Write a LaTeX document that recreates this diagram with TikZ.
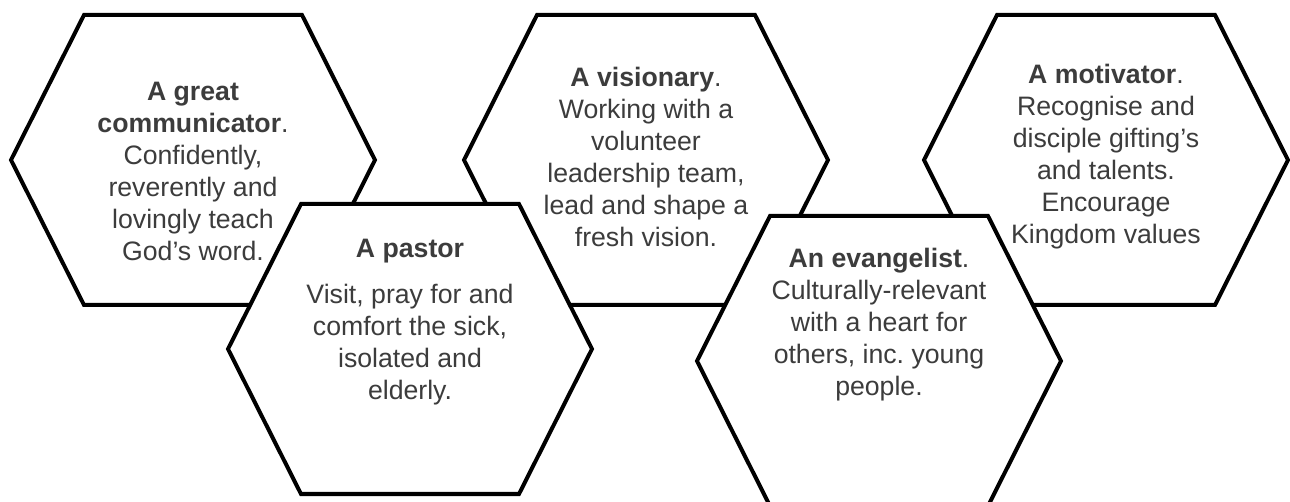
\documentclass[tikz,border=0pt]{standalone}
\usepackage{fontspec}
\setmainfont{Liberation Sans}
\usepackage{tikz}
\definecolor{txtgray}{RGB}{60,60,60}
\newcommand\hexw{182}
\newcommand\hexh{145}
\newcommand\hexs{109}
\newcommand\nhex[5]{

  \filldraw[fill=white, draw=black, line width=3pt, line join=miter, shift={(#1,#2)}] (-\hexs,-\hexh) -- (\hexs,-\hexh) -- (\hexw,0) -- (\hexs,\hexh) -- (-\hexs,\hexh) -- (-\hexw,0) --cycle;
      \node[align=center, text=txtgray, font=\fontsize{20}{24}\selectfont] (#4) at (#1,#3) {#5};
}

\begin{document}
\begin{tikzpicture}[x=0.75pt,y=-0.75pt]
\useasboundingbox (0,0) rectangle (1290,502);
\clip (0,0) rectangle (1290,502);

\nhex{193}{160}{171}{communicator}{\textbf{A great}\\\textbf{communicator}.\\Confidently,\\reverently and\\lovingly teach\\God's word.};
\nhex{646}{160}{157}{visionary}{\textbf{A visionary}.\\Working with a\\volunteer\\leadership team,\\lead and shape a\\fresh vision.};
\nhex{1106}{160}{157}{motivator}{\textbf{A motivator}.\\Recognise and\\disciple gifting's\\and talents.\\Encourage\\Kingdom values};
\nhex{410}{349}{322}{pastor}{\textbf{A pastor}\\[10pt]Visit, pray for and\\comfort the sick,\\isolated and\\elderly.};
\nhex{879}{361}{325}{evangelist}{\textbf{An evangelist}.\\Culturally-relevant\\with a heart for\\others, inc.\ young\\people.};

\end{tikzpicture}
\end{document}
